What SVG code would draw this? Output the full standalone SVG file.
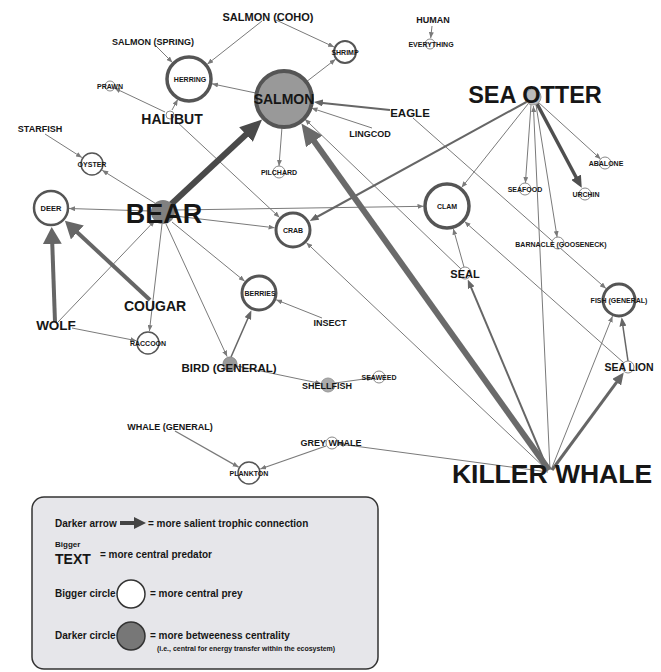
<svg xmlns="http://www.w3.org/2000/svg" width="661" height="672" viewBox="0 0 661 672">
<style>
text{font-family:"Liberation Sans",Arial,Helvetica,sans-serif;font-weight:bold;fill:#161616;text-anchor:middle}
.e1{stroke:#7a7a7a;stroke-width:1;fill:none;marker-end:url(#a1)}
.e2{stroke:#666;stroke-width:2;fill:none;marker-end:url(#a2)}
.e3{stroke:#666;stroke-width:3;fill:none;marker-end:url(#a3)}
.e3d{stroke:#4f4f4f;stroke-width:3.5;fill:none;marker-end:url(#a3d)}
.e4{stroke:#666;stroke-width:4;fill:none;marker-end:url(#a4)}
.e5{stroke:#6a6a6a;stroke-width:6;fill:none;marker-end:url(#a5)}
.e5d{stroke:#4a4a4a;stroke-width:6;fill:none;marker-end:url(#a5d)}
.c{fill:#fff;stroke:#555}
.s{fill:#fff;stroke:#888;stroke-width:1}
.t7{font-size:7px}
.t9{font-size:9px}
.lg{font-size:10px;text-anchor:start}
</style>
<defs>
<marker id="a1" markerUnits="userSpaceOnUse" viewBox="0 0 6 5" refX="6" refY="2.5" markerWidth="6" markerHeight="5" orient="auto"><path d="M0,0L6,2.5L0,5z" fill="#7a7a7a"/></marker>
<marker id="a2" markerUnits="userSpaceOnUse" viewBox="0 0 9 7" refX="5" refY="3.5" markerWidth="9" markerHeight="7" orient="auto"><path d="M0,0L9,3.5L0,7z" fill="#666"/></marker>
<marker id="a3" markerUnits="userSpaceOnUse" viewBox="0 0 12 11" refX="6" refY="5.5" markerWidth="12" markerHeight="11" orient="auto"><path d="M0,0L12,5.5L0,11z" fill="#666"/></marker>
<marker id="a3d" markerUnits="userSpaceOnUse" viewBox="0 0 12 11" refX="6" refY="5.5" markerWidth="12" markerHeight="11" orient="auto"><path d="M0,0L12,5.5L0,11z" fill="#4f4f4f"/></marker>
<marker id="a4" markerUnits="userSpaceOnUse" viewBox="0 0 17 19" refX="8" refY="9.5" markerWidth="17" markerHeight="19" orient="auto"><path d="M0,0L17,9.5L0,19z" fill="#666"/></marker>
<marker id="a5" markerUnits="userSpaceOnUse" viewBox="0 0 22 20" refX="10" refY="10" markerWidth="22" markerHeight="20" orient="auto"><path d="M0,0L22,10L0,20z" fill="#6a6a6a"/></marker>
<marker id="a5d" markerUnits="userSpaceOnUse" viewBox="0 0 22 20" refX="10" refY="10" markerWidth="22" markerHeight="20" orient="auto"><path d="M0,0L22,10L0,20z" fill="#4a4a4a"/></marker>
<marker id="aL" markerUnits="userSpaceOnUse" viewBox="0 0 12 12" refX="4" refY="6" markerWidth="12" markerHeight="12" orient="auto"><path d="M0,0L12,6L0,12z" fill="#444"/></marker>
</defs>
<rect width="661" height="672" fill="#fff"/>
<g id="connectors">
<path class="e1" d="M262,21L207.3,64.2"/>
<path class="e1" d="M276,20L334.1,47"/>
<path class="e1" d="M156,46L172.4,62.4"/>
<path class="e1" d="M256.6,93.2L212,83.8"/>
<path class="e1" d="M306.2,81.9L335.5,59.3"/>
<path class="e1" d="M282,127L279,166"/>
<path class="e1" d="M172,110L177.7,99.6"/>
<path class="e1" d="M165,112L114.5,88.1"/>
<path class="e1" d="M176,121L279.5,217.4"/>
<path class="e1" d="M45,134L81.9,157.5"/>
<path class="e1" d="M158,205L102.2,170.3"/>
<path class="e1" d="M150,211L69,208.5"/>
<path class="e1" d="M175,216L274.6,227.8"/>
<path class="e1" d="M175,210L423.5,206.3"/>
<path class="e1" d="M172,222L244.7,281.3"/>
<path class="e1" d="M166,224L227.1,356.6"/>
<path class="e1" d="M162,224L149.4,331.1"/>
<path class="e1" d="M58,322L154.7,220.7"/>
<path class="e1" d="M72,328L136.2,340.7"/>
<path class="e1" d="M322,318L276.2,299.8"/>
<path class="e1" d="M237,366L321.1,383.6"/>
<path class="e1" d="M335,383L373.1,377.8"/>
<path class="e1" style="stroke-width:1.3" d="M175,431L238.6,467.1"/>
<path class="e1" style="stroke-width:1.3" d="M326,446L260.3,469"/>
<path class="e1" d="M548,472L337.9,443.8"/>
<path class="e1" d="M547,470L306.4,242.7"/>
<path class="e1" d="M551,470L612.5,316.2"/>
<path class="e1" d="M550,470L533.4,106"/>
<path class="e1" d="M528,104L461.6,187.6"/>
<path class="e1" d="M531,105L525.4,183"/>
<path class="e1" d="M538,102L600.6,159"/>
<path class="e1" d="M536,105L557.1,237.1"/>
<path class="e1" d="M413,118L605.9,288.4"/>
<path class="e1" d="M461,269L304.9,119.1"/>
<path class="e1" d="M464,267L453.3,228.7"/>
<path class="e1" d="M624,363L464.6,221.6"/>
<path class="e1" d="M372,128L311.5,108.1"/>
<path class="e1" d="M432,26L430.7,38.1"/>
<path class="e2" style="stroke-width:1.5" d="M231,357L249.8,314"/>
<path class="e2" style="stroke-width:1.5" d="M628,361L622.2,321.3"/>
<path class="e2" d="M548,470L469.3,283.1"/>
<path class="e2" d="M530,100L313.2,219"/>
<path class="e2" d="M390,110L317.8,102.5"/>
<path class="e3" d="M552,470L620.2,377.4"/>
<path class="e3d" d="M535,100L578.9,182.5"/>
<path class="e4" d="M55,322L52,236"/>
<path class="e4" d="M150,300L71.5,227"/>
<path class="e5" d="M549,470L308.4,133.2"/>
<path class="e5d" d="M166,209L253.3,127.7"/>
</g>
<g id="n-salmon-coho"><text x="268" y="21" style="font-size:11px">SALMON (COHO)</text></g>
<g id="n-salmon-spring"><text class="t9" x="153" y="45">SALMON (SPRING)</text></g>
<g id="n-human"><text class="t9" x="433" y="23">HUMAN</text></g>
<g id="n-everything"><circle class="s" cx="430" cy="44" r="5"/><text class="t7" x="431" y="47">EVERYTHING</text></g>
<g id="n-shrimp"><circle class="c" style="stroke-width:2" cx="345" cy="52" r="11"/><text class="t7" x="345" y="54.5">SHRIMP</text></g>
<g id="n-herring"><circle class="c" style="stroke-width:3.5" cx="189" cy="79" r="22"/><text class="t7" x="190" y="82">HERRING</text></g>
<g id="n-salmon"><circle cx="284" cy="99" r="28" fill="#999" stroke="#555" stroke-width="4"/><text x="284" y="104" style="font-size:14px">SALMON</text></g>
<g id="n-prawn"><circle class="s" cx="110" cy="86" r="5"/><text class="t7" x="110" y="89">PRAWN</text></g>
<g id="n-halibut"><circle class="s" cx="170" cy="115" r="4"/><text x="172" y="124" style="font-size:14px">HALIBUT</text></g>
<g id="n-starfish"><text class="t9" x="40" y="132">STARFISH</text></g>
<g id="n-oyster"><circle class="c" style="stroke-width:1.5" cx="92" cy="164" r="11"/><text class="t7" x="92" y="166.5">OYSTER</text></g>
<g id="n-eagle"><text x="410" y="117" style="font-size:11.5px">EAGLE</text></g>
<g id="n-lingcod"><text class="t9" x="370" y="137">LINGCOD</text></g>
<g id="n-pilchard"><circle class="s" cx="279" cy="172" r="6"/><text class="t7" x="279" y="175">PILCHARD</text></g>
<g id="n-sea-otter"><circle cx="533" cy="97" r="8" fill="#bbb" stroke="#999"/><text x="535" y="103" style="font-size:23.5px">SEA OTTER</text></g>
<g id="n-abalone"><circle class="s" cx="605" cy="163" r="6"/><text class="t7" x="606" y="166">ABALONE</text></g>
<g id="n-seafood"><circle class="s" cx="525" cy="189" r="6"/><text class="t7" x="525" y="192">SEAFOOD</text></g>
<g id="n-urchin"><circle class="s" cx="585" cy="194" r="6"/><text class="t7" x="586" y="197">URCHIN</text></g>
<g id="n-deer"><circle class="c" style="stroke-width:2.5" cx="51" cy="208" r="17"/><text x="51" y="211" style="font-size:7.5px">DEER</text></g>
<g id="n-bear"><circle cx="163" cy="212" r="12" fill="#808080"/><text x="164" y="223" style="font-size:27px">BEAR</text></g>
<g id="n-crab"><circle class="c" style="stroke-width:3" cx="293" cy="230" r="17"/><text class="t7" x="293" y="232.5">CRAB</text></g>
<g id="n-clam"><circle class="c" style="stroke-width:3.5" cx="447" cy="206" r="22"/><text class="t7" x="447" y="208.5">CLAM</text></g>
<g id="n-barnacle"><circle class="s" cx="558" cy="243" r="6"/><text class="t7" x="561" y="247">BARNACLE (GOOSENECK)</text></g>
<g id="n-seal"><circle class="s" cx="465" cy="273" r="6"/><text x="465" y="278" style="font-size:11px">SEAL</text></g>
<g id="n-fish"><circle class="c" style="stroke-width:3" cx="619" cy="300" r="16"/><text class="t7" x="619" y="303">FISH (GENERAL)</text></g>
<g id="n-cougar"><text x="155" y="311" style="font-size:14px">COUGAR</text></g>
<g id="n-wolf"><text x="56" y="330" style="font-size:13.5px">WOLF</text></g>
<g id="n-berries"><circle class="c" style="stroke-width:3" cx="259" cy="293" r="17"/><text class="t7" x="260" y="296">BERRIES</text></g>
<g id="n-insect"><text class="t9" x="330" y="326">INSECT</text></g>
<g id="n-raccoon"><circle class="c" style="stroke-width:1.5" cx="148" cy="343" r="11"/><text class="t7" x="148" y="345.5">RACCOON</text></g>
<g id="n-bird"><circle cx="230" cy="364" r="7" fill="#999" stroke="#888"/><text x="229" y="372" style="font-size:11.5px">BIRD (GENERAL)</text></g>
<g id="n-sea-lion"><circle class="s" cx="628" cy="367" r="6"/><text x="629" y="371" style="font-size:10.5px">SEA LION</text></g>
<g id="n-shellfish"><circle cx="328" cy="385" r="7" fill="#aaa" stroke="#999"/><text class="t9" x="327" y="389">SHELLFISH</text></g>
<g id="n-seaweed"><circle class="s" cx="379" cy="377" r="6"/><text class="t7" x="379" y="380">SEAWEED</text></g>
<g id="n-whale"><text class="t9" x="170" y="430">WHALE (GENERAL)</text></g>
<g id="n-grey-whale"><circle class="s" cx="332" cy="443" r="6"/><text class="t9" x="331" y="446">GREY WHALE</text></g>
<g id="n-plankton"><circle class="c" style="stroke-width:1.5" cx="249" cy="473" r="11"/><text class="t7" x="249" y="476">PLANKTON</text></g>
<g id="n-killer-whale"><text x="552" y="483" style="font-size:26.5px">KILLER WHALE</text></g>
<g id="legend">
<rect x="32" y="497" width="346" height="172" rx="12" fill="#e6e6ea" stroke="#333" stroke-width="1.5"/>
<text class="lg" x="55" y="527">Darker arrow</text>
<path d="M120,523L138,523" stroke="#444" stroke-width="4" marker-end="url(#aL)"/>
<text class="lg" x="148" y="527">= more salient trophic connection</text>
<text class="lg" x="55" y="547" style="font-size:8px">Bigger</text>
<text class="lg" x="55" y="564" style="font-size:14px">TEXT</text>
<text class="lg" x="100" y="558">= more central predator</text>
<text class="lg" x="55" y="597">Bigger circle</text>
<circle cx="131" cy="594" r="14" fill="#fff" stroke="#333" stroke-width="1.5"/>
<text class="lg" x="150" y="597">= more central prey</text>
<text class="lg" x="55" y="639">Darker circle</text>
<circle cx="131" cy="636" r="14" fill="#777" stroke="#333" stroke-width="1.5"/>
<text class="lg" x="150" y="639">= more betweeness centrality</text>
<text class="lg" x="157" y="651" style="font-size:7px">(i.e., central for energy transfer within the ecosystem)</text>
</g>
</svg>
